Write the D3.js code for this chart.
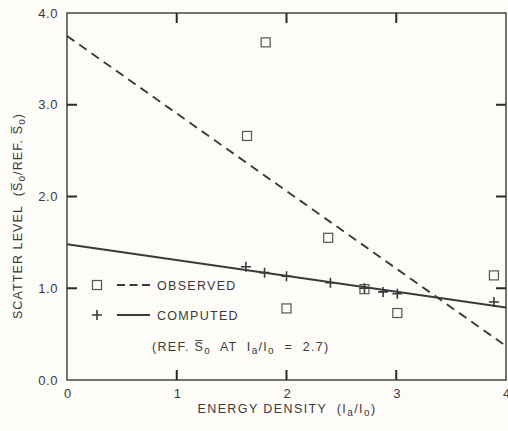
<!DOCTYPE html>
<html><head><meta charset="utf-8">
<script src="https://cdn.jsdelivr.net/npm/d3@7"></script>
<style>
body{margin:0;background:#fdfcf8;}
svg{display:block;}
text{font-family:"Liberation Sans",Arial,sans-serif;fill:#3a3a3a;}
</style></head>
<body><svg id="c" width="508" height="431"></svg>
<script>
const observedX = [1.64, 1.81, 2.38, 2.0, 2.71, 3.01, 3.89];
const observedY = [2.66, 3.68, 1.55, 0.78, 0.99, 0.73, 1.14];
const computedX = [1.63, 1.8, 2.0, 2.4, 2.71, 2.88, 3.01, 3.89];
const computedY = [1.235, 1.17, 1.13, 1.06, 1.0, 0.96, 0.94, 0.85];
const observedFitX = [0, 4];
const observedFitY = [3.75, 0.37];
const computedFitX = [0, 4];
const computedFitY = [1.48, 0.79];
const xTicks = [0, 1, 2, 3, 4];
const yTicks = [0, 1, 2, 3, 4];
const innerTicks = [1, 2, 3];

const svg = d3.select("#c");
const ink = "#3a3a3a";
const x = d3.scaleLinear().domain([0, 4]).range([67, 506]);
const y = d3.scaleLinear().domain([0, 4]).range([380, 13]);
const font = "Liberation Sans, Arial, sans-serif";

// frame
svg.append("rect").attr("x", x(0)).attr("y", y(4)).attr("width", x(4)-x(0)).attr("height", y(0)-y(4))
  .attr("fill", "none").attr("stroke", ink).attr("stroke-width", 1.4);

// tick labels via axes (no lines)
svg.append("g").attr("transform", `translate(0,${y(0)})`)
  .call(d3.axisBottom(x).tickValues(xTicks).tickSize(0).tickPadding(9).tickFormat(d3.format("d")))
  .call(g => { g.select(".domain").remove(); g.selectAll(".tick line").remove();
    g.selectAll("text").attr("font-size", 13).attr("fill", ink).attr("font-family", font); });
svg.append("g").attr("transform", `translate(${x(0)},0)`)
  .call(d3.axisLeft(y).tickValues(yTicks).tickSize(0).tickPadding(9).tickFormat(d3.format(".1f")))
  .call(g => { g.select(".domain").remove(); g.selectAll(".tick line").remove();
    g.selectAll("text").attr("font-size", 13).attr("fill", ink).attr("font-family", font).attr("letter-spacing", 0.6); });

// fit lines
const line = d3.line().x(d => x(d[0])).y(d => y(d[1]));
svg.append("path").datum(observedFitX.map((v,i)=>[v, observedFitY[i]])).attr("d", line)
  .attr("fill","none").attr("stroke", ink).attr("stroke-width", 1.9).attr("stroke-dasharray", "9,6");
svg.append("path").datum(computedFitX.map((v,i)=>[v, computedFitY[i]])).attr("d", line)
  .attr("fill","none").attr("stroke", ink).attr("stroke-width", 1.9);

// markers
const sq = 9;
svg.selectAll(".obs").data(observedX.map((v,i)=>[v, observedY[i]])).enter().append("rect")
  .attr("class","obs")
  .attr("x", d => x(d[0]) - sq/2).attr("y", d => y(d[1]) - sq/2).attr("width", sq).attr("height", sq)
  .attr("fill", "none").attr("stroke", "#555").attr("stroke-width", 1.2);
const pl = 5;
svg.selectAll(".cmp").data(computedX.map((v,i)=>[v, computedY[i]])).enter().append("path")
  .attr("class","cmp")
  .attr("d", d => `M${x(d[0])-pl},${y(d[1])}H${x(d[0])+pl}M${x(d[0])},${y(d[1])-pl}V${y(d[1])+pl}`)
  .attr("stroke", ink).attr("stroke-width", 1.6).attr("fill", "none");

// inward ticks on all sides, drawn last
const tl = 10;
const tickSegs = [];
innerTicks.forEach(d => {
  tickSegs.push([x(d), y(0), x(d), y(0) - tl]);
  tickSegs.push([x(d), y(4), x(d), y(4) + tl]);
  tickSegs.push([x(0), y(d), x(0) + tl, y(d)]);
  tickSegs.push([x(4), y(d), x(4) - tl, y(d)]);
});
svg.selectAll("line.tk").data(tickSegs).enter().append("line").attr("class","tk")
  .attr("x1", d => d[0]).attr("y1", d => d[1]).attr("x2", d => d[2]).attr("y2", d => d[3])
  .style("stroke", "#2a2a2a").style("stroke-width", "2px");

// legend
const lg = svg.append("g");
lg.append("rect").attr("x", 92.5).attr("y", 280.5).attr("width", 9).attr("height", 9)
  .attr("fill","none").attr("stroke","#555").attr("stroke-width",1.2);
lg.append("line").attr("x1",117).attr("x2",150).attr("y1",285).attr("y2",285)
  .attr("stroke",ink).attr("stroke-width",1.9).attr("stroke-dasharray","8,4.5");
lg.append("text").attr("x",157).attr("y",290).attr("font-size",12.5).attr("letter-spacing",1.3).text("OBSERVED");
lg.append("path").attr("d","M92,315H102M97,310V320").attr("stroke",ink).attr("stroke-width",1.6);
lg.append("line").attr("x1",117).attr("x2",150).attr("y1",315).attr("y2",315).attr("stroke",ink).attr("stroke-width",1.9);
lg.append("text").attr("x",157).attr("y",320).attr("font-size",12.5).attr("letter-spacing",1.3).text("COMPUTED");

const ref = svg.append("text").attr("x",152).attr("y",351).attr("font-size",12.5).attr("letter-spacing",1.3)
  .style("white-space","pre");
ref.append("tspan").text("(REF. S\u0305");
ref.append("tspan").attr("font-size",10).attr("dy",3).text("o");
ref.append("tspan").attr("dy",-3).text("  AT  I");
ref.append("tspan").attr("font-size",10).attr("dy",3).text("a");
ref.append("tspan").attr("dy",-3).text("/I");
ref.append("tspan").attr("font-size",10).attr("dy",3).text("o");
ref.append("tspan").attr("dy",-3).text("  =  2.7)");

// x title
const xt = svg.append("text").attr("x",287).attr("y",413).attr("text-anchor","middle").attr("font-size",12.5).attr("letter-spacing",1.4)
  .style("white-space","pre");
xt.append("tspan").text("ENERGY DENSITY  (I");
xt.append("tspan").attr("font-size",10).attr("dy",3).text("a");
xt.append("tspan").attr("dy",-3).text("/I");
xt.append("tspan").attr("font-size",10).attr("dy",3).text("o");
xt.append("tspan").attr("dy",-3).text(")");

// y title
const yt = svg.append("text").attr("transform","translate(22,216) rotate(-90)").attr("text-anchor","middle").attr("font-size",12.5).attr("letter-spacing",1.1)
  .style("white-space","pre");
yt.append("tspan").text("SCATTER LEVEL  (S\u0305");
yt.append("tspan").attr("font-size",10).attr("dy",3).text("o");
yt.append("tspan").attr("dy",-3).text("/REF. S\u0305");
yt.append("tspan").attr("font-size",10).attr("dy",3).text("o");
yt.append("tspan").attr("dy",-3).text(")");
</script></body></html>
